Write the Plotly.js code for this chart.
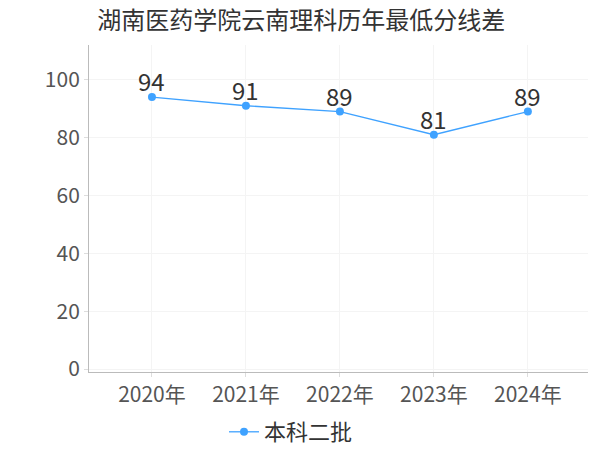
<!DOCTYPE html>
<html>
<head>
<meta charset="utf-8">
<script src="https://cdn.plot.ly/plotly-3.0.1.min.js"></script>
<style>body{margin:0;}#chart{width:600px;height:450px;}</style>
</head>
<body>
<div id="chart"></div>
<script>
// 数据
const years = ["2020年", "2021年", "2022年", "2023年", "2024年"];
const scores = [94, 91, 89, 81, 89];
const seriesName = "本科二批";
const yTicks = [0, 20, 40, 60, 80, 100];

const font = "'Noto Sans CJK SC', 'Noto Sans', sans-serif";

const trace = {
  type: "scatter",
  mode: "lines+markers",
  name: seriesName,
  x: years,
  y: scores,
  line: { color: "#3fa2ff", width: 1.3 },
  marker: { color: "#3fa2ff", size: 8 },
  cliponaxis: false,
};

// 数据标签
const labels = years.map((y, i) => ({
  x: y,
  y: scores[i],
  text: String(scores[i]),
  showarrow: false,
  yanchor: "bottom",
  yshift: -3,
  font: { size: 24, color: "#333" },
}));

const layout = {
  width: 600,
  height: 450,
  margin: { l: 89, r: 12, t: 45, b: 78 },
  paper_bgcolor: "#fff",
  plot_bgcolor: "#fff",
  font: { family: font, color: "#555" },
  title: {
    text: "湖南医药学院云南理科历年最低分线差",
    font: { size: 24, color: "#333" },
    x: 0.162, xanchor: "left", y: 0.955, yanchor: "middle",
  },
  xaxis: {
    range: [-0.67, 4.64],
    showgrid: true,
    gridcolor: "#f4f4f4",
    showline: true,
    linecolor: "#bbb",
    ticks: "outside",
    ticklen: 4,
    tickcolor: "#ddd",
    tickfont: { size: 21, color: "#555" },
    zeroline: false,
  },
  yaxis: {
    range: [-1, 112],
    tickvals: yTicks,
    showgrid: true,
    gridcolor: "#f4f4f4",
    showline: true,
    linecolor: "#bbb",
    ticks: "outside",
    ticklen: 4,
    tickcolor: "#ddd",
    tickfont: { size: 21, color: "#555" },
    zeroline: false,
  },
  annotations: labels,
  showlegend: true,
  legend: {
    orientation: "h",
    x: 0.485, xanchor: "center", xref: "container",
    y: 0.04, yanchor: "middle", yref: "container",
    font: { size: 22, color: "#333" },
    itemwidth: 30,
  },
};

Plotly.newPlot("chart", [trace], layout, { displayModeBar: false });
</script>
</body>
</html>
